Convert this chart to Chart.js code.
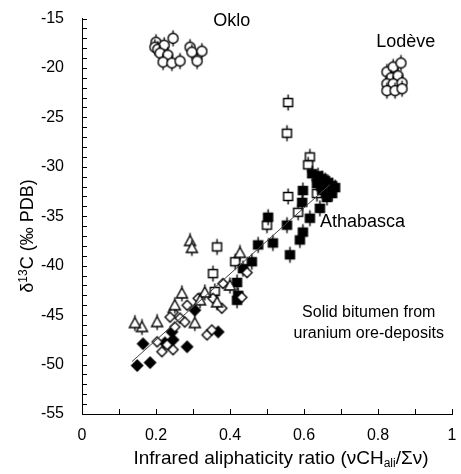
<!DOCTYPE html>
<html>
<head>
<meta charset="utf-8">
<script src="https://cdn.jsdelivr.net/npm/chart.js@4/dist/chart.umd.min.js"></script>
<style>
html, body { margin: 0; padding: 0; background: #fff; }
</style>
</head>
<body>
<canvas id="myChart" width="461" height="474"></canvas>
<script>
// values
const okloX = [0.200, 0.197, 0.205, 0.222, 0.246, 0.211, 0.232, 0.219, 0.243, 0.265, 0.292, 0.297, 0.324, 0.311];
const okloY = [-17.4, -17.9, -18.1, -17.7, -17.0, -18.5, -18.7, -19.4, -19.5, -19.3, -17.9, -18.4, -18.3, -19.3];

const lodeveX = [0.824, 0.841, 0.862, 0.835, 0.854, 0.824, 0.841, 0.865, 0.824, 0.846, 0.865];
const lodeveY = [-20.4, -19.9, -19.5, -21.0, -20.8, -21.6, -21.6, -21.5, -22.3, -22.3, -22.1];

const athaX = [0.622, 0.638, 0.649, 0.657, 0.665, 0.676, 0.684, 0.676, 0.662, 0.649, 0.635, 0.597, 0.595, 0.643, 0.616, 0.597, 0.589, 0.562, 0.554, 0.516, 0.503, 0.476, 0.459, 0.435, 0.419, 0.422, 0.419];
const athaY = [-30.7, -30.9, -31.2, -31.4, -31.6, -31.9, -32.1, -32.7, -33.1, -32.4, -31.7, -32.4, -33.6, -34.2, -35.2, -36.6, -37.4, -38.9, -35.9, -37.7, -35.1, -37.9, -39.6, -40.3, -41.7, -43.0, -43.5];

const openSqX = [0.557, 0.554, 0.616, 0.611, 0.557, 0.635, 0.584, 0.500, 0.365, 0.414, 0.354, 0.359];
const openSqY = [-23.5, -26.6, -29.0, -29.8, -33.0, -32.7, -34.6, -35.9, -38.1, -39.6, -40.8, -42.6];

const triX = [0.292, 0.297, 0.427, 0.270, 0.332, 0.365, 0.305, 0.203, 0.162, 0.143, 0.319, 0.400, 0.251];
const triY = [-37.5, -38.2, -38.7, -42.8, -42.7, -43.7, -45.8, -45.7, -46.2, -45.8, -43.5, -42.0, -44.0];

const openDiaX = [0.446, 0.432, 0.381, 0.378, 0.354, 0.314, 0.284, 0.246, 0.265, 0.238, 0.278, 0.251, 0.338, 0.351, 0.203, 0.216, 0.246, 0.230];
const openDiaY = [-40.7, -43.2, -41.8, -44.3, -43.3, -43.3, -44.0, -44.7, -45.3, -45.2, -45.7, -46.2, -47.0, -46.5, -47.7, -48.7, -48.5, -48.0];

const fillDiaX = [0.165, 0.243, 0.224, 0.284, 0.368, 0.149, 0.184, 0.305, 0.246];
const fillDiaY = [-47.9, -46.7, -47.8, -48.2, -46.7, -50.1, -49.8, -44.5, -47.5];

const fitX = [0.135, 0.67];
const fitY = [-49.7, -31.8];

const xTicks = [0, 0.2, 0.4, 0.6, 0.8, 1];
const yTicks = [-55, -50, -45, -40, -35, -30, -25, -20, -15];

const toPoints = (xs, ys) => xs.map((x, i) => ({ x: x, y: ys[i] }));

const makeMarker = (kind) => {
    const c = document.createElement("canvas");
    c.width = 17;
    c.height = 21;
    const g = c.getContext("2d");
    const cx = 8.5, cy = 10.5;
    g.lineWidth = 1.4;
    g.strokeStyle = "#000";
    g.fillStyle = kind.indexOf("fill") == 0 ? "#000" : "#fff";
    if (kind.indexOf("Bar") > 0) {
        g.beginPath();
        g.moveTo(cx, cy - 8);
        g.lineTo(cx, cy + 8);
        g.stroke();
    }
    g.beginPath();
    if (kind.indexOf("Circle") >= 0) {
        g.arc(cx, cy, 5, 0, Math.PI * 2);
    } else if (kind.indexOf("Square") >= 0) {
        g.rect(cx - 4.5, cy - 4, 9, 8);
    } else if (kind.indexOf("Tri") >= 0) {
        g.moveTo(cx, cy - 5.5);
        g.lineTo(cx + 5.5, cy + 4.5);
        g.lineTo(cx - 5.5, cy + 4.5);
        g.closePath();
    } else if (kind == "openDia") {
        g.moveTo(cx, cy - 5);
        g.lineTo(cx + 5, cy);
        g.lineTo(cx, cy + 5);
        g.lineTo(cx - 5, cy);
        g.closePath();
    } else {
        g.moveTo(cx, cy - 5.5);
        g.lineTo(cx + 5.5, cy);
        g.lineTo(cx, cy + 5.5);
        g.lineTo(cx - 5.5, cy);
        g.closePath();
    }
    g.fill();
    g.stroke();
    return c;
};

const scatterSet = (label, xs, ys, kind) => ({
    type: "scatter",
    label: label,
    data: toPoints(xs, ys),
    pointStyle: makeMarker(kind),
    pointRadius: 6,
    pointHoverRadius: 6,
});

const FONT = "'Liberation Sans', Arial, sans-serif";

// inward tick marks, axis titles and labels inside the plot
const extras = {
    id: "extras",
    afterDraw(chart) {
        const ctx = chart.ctx;
        const xs = chart.scales.x;
        const ys = chart.scales.y;
        const area = chart.chartArea;
        ctx.save();
        ctx.strokeStyle = "#000";
        ctx.lineWidth = 1;
        ctx.beginPath();
        for (let v = 0; v <= 10; v++) {
            const px = Math.round(xs.getPixelForValue(v / 10)) + 0.5;
            ctx.moveTo(px, area.bottom);
            ctx.lineTo(px, area.bottom - 5);
        }
        for (let v = -55; v <= -15; v++) {
            const py = Math.round(ys.getPixelForValue(v)) + 0.5;
            ctx.moveTo(area.left, py);
            ctx.lineTo(area.left + 5, py);
        }
        ctx.stroke();

        ctx.fillStyle = "#000";
        ctx.textBaseline = "middle";
        ctx.textAlign = "center";
        ctx.font = "18px " + FONT;
        ctx.fillText("Oklo", xs.getPixelForValue(0.405), ys.getPixelForValue(-15.3));
        ctx.fillText("Lodève", xs.getPixelForValue(0.875), ys.getPixelForValue(-17.4));
        ctx.font = "16px " + FONT;
        ctx.fillText("Solid bitumen from", xs.getPixelForValue(0.775), ys.getPixelForValue(-44.7));
        ctx.fillText("uranium ore-deposits", xs.getPixelForValue(0.775), ys.getPixelForValue(-46.9));
        ctx.textAlign = "left";
        ctx.font = "18px " + FONT;
        ctx.fillText("Athabasca", xs.getPixelForValue(0.643), ys.getPixelForValue(-35.6));

        // x title with subscript
        ctx.font = "19px " + FONT;
        const p1 = "Infrared aliphaticity ratio (\u03bdCH";
        const p3 = "/\u03a3\u03bd)";
        const w1 = ctx.measureText(p1).width;
        const w3 = ctx.measureText(p3).width;
        ctx.font = "12px " + FONT;
        const w2 = ctx.measureText("ali").width;
        let tx = 281 - (w1 + w2 + w3) / 2;
        const ty = 459;
        ctx.font = "19px " + FONT;
        ctx.fillText(p1, tx, ty);
        tx += w1;
        ctx.font = "12px " + FONT;
        ctx.fillText("ali", tx, ty + 5);
        tx += w2;
        ctx.font = "19px " + FONT;
        ctx.fillText(p3, tx, ty);

        // y title with superscript
        ctx.translate(28, 236);
        ctx.rotate(-Math.PI / 2);
        ctx.font = "18px " + FONT;
        const q1 = "\u03b4";
        const q3 = "C (\u2030 PDB)";
        const v1 = ctx.measureText(q1).width;
        const v3 = ctx.measureText(q3).width;
        ctx.font = "12px " + FONT;
        const v2 = ctx.measureText("13").width;
        let sx = -(v1 + v2 + v3) / 2;
        ctx.font = "18px " + FONT;
        ctx.fillText(q1, sx, 0);
        sx += v1;
        ctx.font = "12px " + FONT;
        ctx.fillText("13", sx, -4);
        sx += v2;
        ctx.font = "18px " + FONT;
        ctx.fillText(q3, sx, 0);
        ctx.restore();
    },
};

const ctx = document.getElementById("myChart").getContext("2d");

const config = {
    type: "scatter",
    data: {
        datasets: [
            {
                type: "line",
                label: "fit",
                data: toPoints(fitX, fitY),
                borderColor: "#444",
                borderWidth: 1,
                pointRadius: 0,
                fill: false,
            },
            scatterSet("Oklo", okloX, okloY, "openCircleBar"),
            scatterSet("Lodeve", lodeveX, lodeveY, "openCircleBar"),
            scatterSet("triangles", triX, triY, "openTriBar"),
            scatterSet("open diamonds", openDiaX, openDiaY, "openDia"),
            scatterSet("filled diamonds", fillDiaX, fillDiaY, "fillDia"),
            scatterSet("Athabasca", athaX, athaY, "fillSquareBar"),
            scatterSet("open squares", openSqX, openSqY, "openSquareBar"),
        ],
    },
    options: {
        responsive: false,
        animation: false,
        layout: { padding: { top: 18, right: 9, left: 0, bottom: 0 } },
        plugins: {
            legend: { display: false },
            tooltip: { enabled: false },
        },
        scales: {
            x: {
                type: "linear",
                min: 0,
                max: 1,
                afterBuildTicks: (s) => { s.ticks = xTicks.map((v) => ({ value: v })); },
                ticks: {
                    color: "#000",
                    // tall line height pushes the labels down without adding side padding
                    font: { size: 16, family: FONT, lineHeight: "44px" },
                    padding: 0,
                    maxRotation: 0,
                    callback: (v) => String(v),
                },
                grid: { display: false, drawTicks: false },
                border: { display: true, color: "#000", width: 1 },
                afterFit: (s) => { s.height = 60; },
            },
            y: {
                type: "linear",
                min: -55,
                max: -15,
                afterBuildTicks: (s) => { s.ticks = yTicks.map((v) => ({ value: v })); },
                ticks: {
                    color: "#000",
                    font: { size: 16, family: FONT, lineHeight: "1px" },
                    padding: 18,
                    callback: (v) => String(v),
                },
                grid: { display: false, drawTicks: false },
                border: { display: true, color: "#000", width: 1 },
                afterFit: (s) => { s.width = 82; },
            },
        },
    },
    plugins: [extras],
};

const myChart = new Chart(ctx, config);
</script>
</body>
</html>
